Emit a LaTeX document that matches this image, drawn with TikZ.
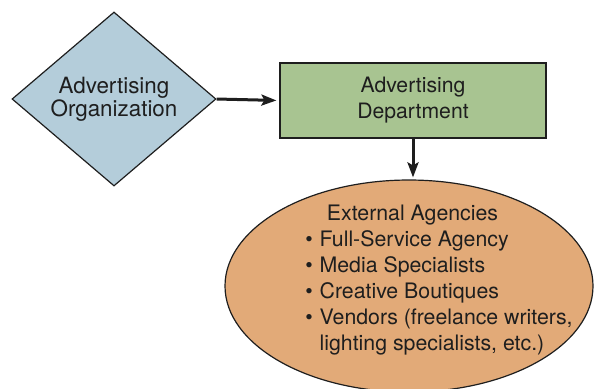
\documentclass[tikz,border=0pt]{standalone}
\usepackage{fontspec}
\setmainfont{TeX Gyre Heros}
\usetikzlibrary{shapes.geometric,arrows.meta}
\definecolor{diafill}{HTML}{B4CDDA}
\definecolor{recfill}{HTML}{A8C491}
\definecolor{ellfill}{HTML}{E2AA78}
\definecolor{edge}{HTML}{1E1E1E}
\tikzset{
  shapeedge/.style={draw=edge, line width=0.6pt},
  flow/.style={draw=edge, line width=1.5pt, -{Stealth[length=7.5pt,width=5.5pt,inset=1.5pt]}},
  txt/.style={text=edge, inner sep=0pt},
}
\begin{document}
\begin{tikzpicture}[x=0.5pt,y=-0.5pt]
\useasboundingbox (0,0) rectangle (594,388);
\node[diamond, shapeedge, fill=diafill, minimum width=102pt, minimum height=87pt, inner sep=0pt,
      txt, align=center, font=\fontsize{11.2}{11.7}\selectfont] (org) at (114,99)
      {Advertising\\Organization};
\node[rectangle, shapeedge, fill=recfill, minimum width=133pt, minimum height=37.5pt, inner sep=0pt,
      txt, align=center, font=\fontsize{10.6}{13}\selectfont] (dep) at (413,100.5)
      {Advertising\\Department};
\node[ellipse, shapeedge, fill=ellfill, minimum width=184pt, minimum height=106pt, inner sep=0pt] (ext) at (409,286) {};
\node[txt, anchor=base, font=\fontsize{10.65}{12.95}\selectfont] (hdr) at (412.5,220.7) {External Agencies};
\node[txt, anchor=base west, font=\fontsize{10.65}{12.95}\selectfont] (lst) at (305,246.6)
  {\begin{tabular}[t]{@{}l@{\hspace{3.4pt}}l@{}}
   \textbullet & Full-Service Agency\\
   \textbullet & Media Specialists\\
   \textbullet & Creative Boutiques\\
   \textbullet & Vendors (freelance writers,\\
               & lighting specialists, etc.)
   \end{tabular}};
\draw[flow, shorten >=1.5pt] (org.east) -- (dep.west);
\draw[flow, shorten >=1pt] (dep.south) -- (dep.south |- ext.north);
\end{tikzpicture}
\end{document}
